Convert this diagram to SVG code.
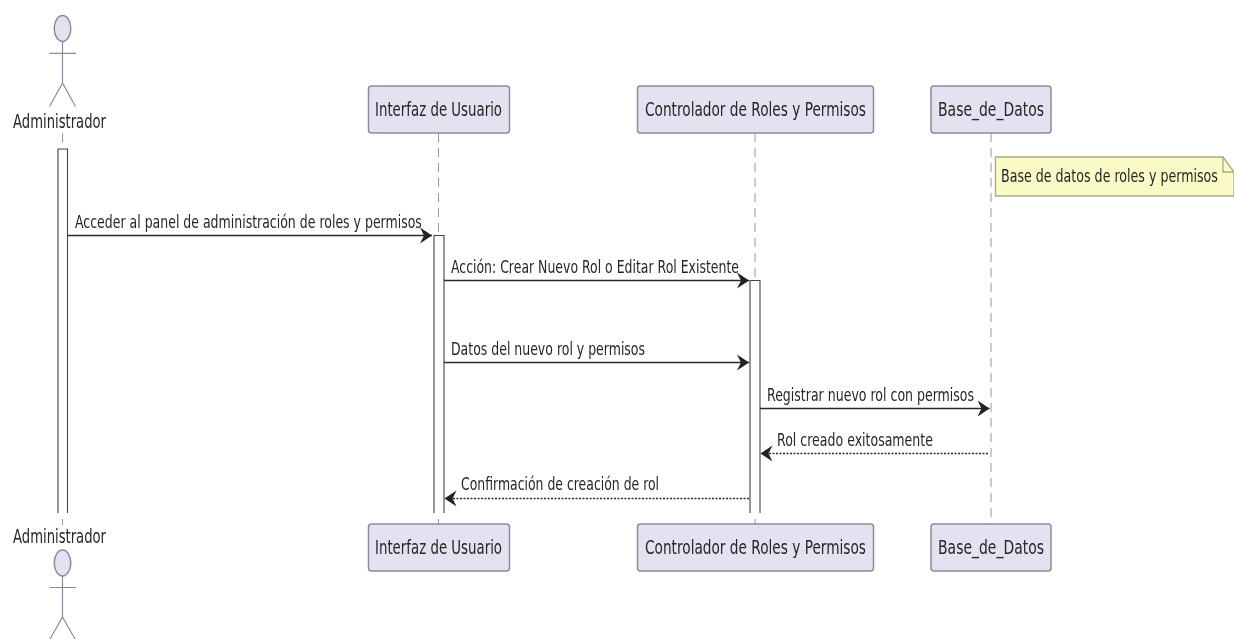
<svg xmlns="http://www.w3.org/2000/svg" width="1236" height="639" viewBox="0 0 1236 639">
<style>
text{font-family:"DejaVu Sans",sans-serif;fill:#262626}
.p{fill:#e2e2f0;stroke:#8c8c98;stroke-width:1.5}
.t{font-size:19.5px}
.m{font-size:17px}
.life{stroke:#999;stroke-width:1;stroke-dasharray:9 6;fill:none}
.act{fill:#fff;stroke:#444;stroke-width:1.1}
.limb{stroke:#8c8c98;stroke-width:1.2;fill:none}
.solid{stroke:#2a2a2a;stroke-width:1.7;fill:none;marker-end:url(#h)}
.dash{stroke:#2a2a2a;stroke-width:1.4;stroke-dasharray:2 1.5;fill:none;marker-end:url(#h)}
</style>
<defs>
<marker id="h" markerUnits="userSpaceOnUse" markerWidth="14" markerHeight="18" refX="12" refY="9" orient="auto">
<path d="M0,1 L12,9 L0,17 L4,9 Z" fill="#222"/>
</marker>
<filter id="soft" x="0" y="0" width="100%" height="100%" color-interpolation-filters="sRGB">
<feGaussianBlur stdDeviation="0.35"/>
</filter>
</defs>
<rect width="1236" height="639" fill="#fff"/>
<g filter="url(#soft)">
<g id="lifelines">
<path class="life" d="M62.5,133V142"/>
<path class="life" d="M62.5,519V525"/>
<path class="life" d="M438.5,133V235"/>
<path class="life" d="M438.5,519V524"/>
<path class="life" d="M755,133V280"/>
<path class="life" d="M755,519V524"/>
<path class="life" d="M991,133V524"/>
</g>
<g id="activations">
<path class="act" d="M58,513V149H67.5V513"/>
<path class="act" d="M434,513V235.5H444V513"/>
<path class="act" d="M750,513V280.5H760V513"/>
</g>
<g id="admin-top">
<ellipse class="p" cx="62.5" cy="28.5" rx="8.3" ry="13"/>
<path class="limb" d="M62.5,41.5V83M49.5,53.3H76M49.5,106.5L62.5,83L75.5,106.5"/>
<text class="t" transform="translate(13 128) scale(.674 1)" textLength="138" lengthAdjust="spacingAndGlyphs">Administrador</text>
</g>
<g id="interfaz-top">
<rect class="p" x="368.5" y="86" width="141" height="47" rx="3"/>
<text class="t" transform="translate(375 116) scale(.684 1)" textLength="185.7" lengthAdjust="spacingAndGlyphs">Interfaz de Usuario</text>
</g>
<g id="controlador-top">
<rect class="p" x="637.5" y="86" width="236" height="47" rx="3"/>
<text class="t" transform="translate(645 116) scale(.696 1)" textLength="317.4" lengthAdjust="spacingAndGlyphs">Controlador de Roles y Permisos</text>
</g>
<g id="base-top">
<rect class="p" x="931" y="86" width="120" height="47" rx="3"/>
<text class="t" transform="translate(938 116) scale(.716 1)" textLength="148.1" lengthAdjust="spacingAndGlyphs">Base_de_Datos</text>
</g>
<g id="note">
<path d="M995.5,157H1223L1234,172V196H995.5Z" fill="#fbfbc8" stroke="#a8a884" stroke-width="1.3"/>
<path d="M1223,157V172H1234" fill="none" stroke="#a8a884" stroke-width="1.3"/>
<text class="m" transform="translate(1001 182) scale(.748 1)" textLength="290" lengthAdjust="spacingAndGlyphs">Base de datos de roles y permisos</text>
</g>
<g id="connectors">
<path class="solid" d="M68,235.5H432"/>
<path class="solid" d="M444,280.5H749"/>
<path class="solid" d="M444,362.5H749"/>
<path class="solid" d="M760,408.5H989.5"/>
<path class="dash" d="M988,453.5H760.5"/>
<path class="dash" d="M749,498.5H444.5"/>
</g>
<g id="labels">
<text class="m" transform="translate(75 227.5) scale(.745 1)" textLength="465.6" lengthAdjust="spacingAndGlyphs">Acceder al panel de administración de roles y permisos</text>
<text class="m" transform="translate(451 272.5) scale(.729 1)" textLength="395" lengthAdjust="spacingAndGlyphs">Acción: Crear Nuevo Rol o Editar Rol Existente</text>
<text class="m" transform="translate(451 354.5) scale(.733 1)" textLength="264.7" lengthAdjust="spacingAndGlyphs">Datos del nuevo rol y permisos</text>
<text class="m" transform="translate(767 400.5) scale(.734 1)" textLength="282.1" lengthAdjust="spacingAndGlyphs">Registrar nuevo rol con permisos</text>
<text class="m" transform="translate(777 445.5) scale(.733 1)" textLength="212.7" lengthAdjust="spacingAndGlyphs">Rol creado exitosamente</text>
<text class="m" transform="translate(461 490) scale(.729 1)" textLength="271.7" lengthAdjust="spacingAndGlyphs">Confirmación de creación de rol</text>
</g>
<g id="admin-bottom">
<text class="t" transform="translate(13 543) scale(.674 1)" textLength="138" lengthAdjust="spacingAndGlyphs">Administrador</text>
<ellipse class="p" cx="62.5" cy="563" rx="8.3" ry="13"/>
<path class="limb" d="M62.5,576V617M49.5,587.5H76M49.5,640L62.5,617L75.5,640"/>
</g>
<g id="interfaz-bottom">
<rect class="p" x="368.5" y="524" width="141" height="47" rx="3"/>
<text class="t" transform="translate(375 554) scale(.684 1)" textLength="185.7" lengthAdjust="spacingAndGlyphs">Interfaz de Usuario</text>
</g>
<g id="controlador-bottom">
<rect class="p" x="637.5" y="524" width="236" height="47" rx="3"/>
<text class="t" transform="translate(645 554) scale(.696 1)" textLength="317.4" lengthAdjust="spacingAndGlyphs">Controlador de Roles y Permisos</text>
</g>
<g id="base-bottom">
<rect class="p" x="931" y="524" width="120" height="47" rx="3"/>
<text class="t" transform="translate(938 554) scale(.716 1)" textLength="148.1" lengthAdjust="spacingAndGlyphs">Base_de_Datos</text>
</g>
</g>
</svg>
